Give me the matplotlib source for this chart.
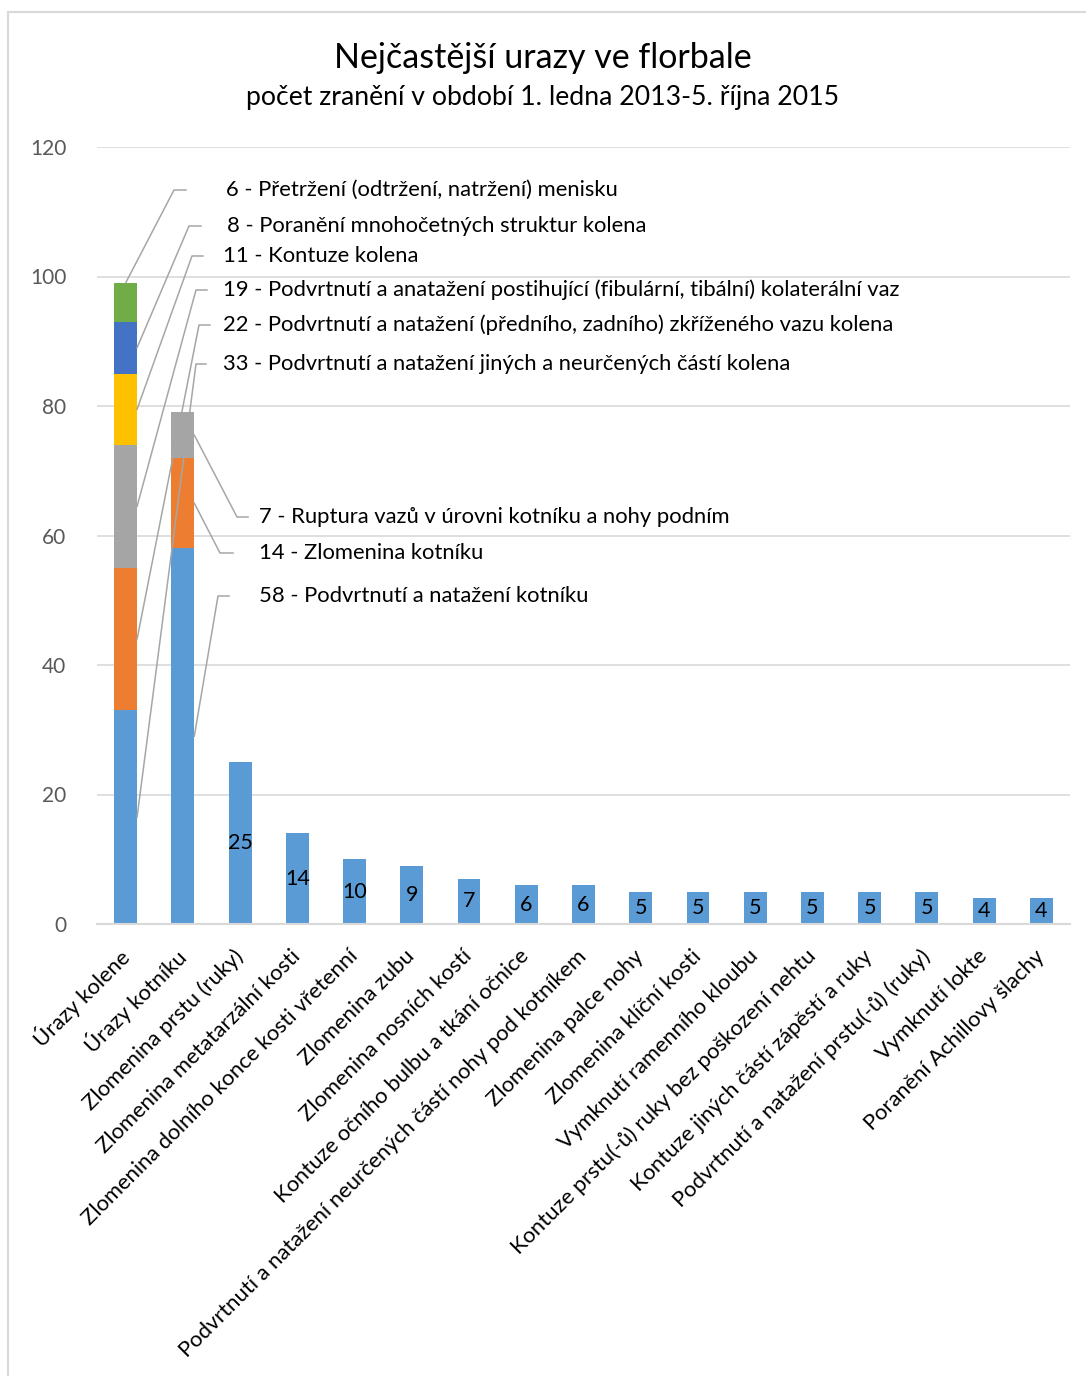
"""
Nejčastější úrazy ve florbale - skládaný sloupcový graf s popisky.
"""

import numpy as np
import matplotlib.pyplot as plt
from matplotlib.patches import Rectangle

plt.rcParams["font.family"] = ["Lato", "DejaVu Sans"]

# ----------------------------------------------------------
# Data
# ----------------------------------------------------------

kategorie = [
    "Úrazy kolene",
    "Úrazy kotníku",
    "Zlomenina prstu (ruky)",
    "Zlomenina metatarzální kosti",
    "Zlomenina dolního konce kosti vřetenní",
    "Zlomenina zubu",
    "Zlomenina nosních kostí",
    "Kontuze očního bulbu a tkání očnice",
    "Podvrtnutí a natažení neurčených částí nohy pod kotníkem",
    "Zlomenina palce nohy",
    "Zlomenina klíční kosti",
    "Vymknutí ramenního kloubu",
    "Kontuze prstu(-ů) ruky bez poškození nehtu",
    "Kontuze jiných částí zápěstí a ruky",
    "Podvrtnutí a natažení prstu(-ů) (ruky)",
    "Vymknutí lokte",
    "Poranění Achillovy šlachy",
]

ostatni_hodnoty = [25, 14, 10, 9, 7, 6, 6, 5, 5, 5, 5, 5, 5, 4, 4]

koleno_hodnoty = [33, 22, 19, 11, 8, 6]
koleno_popisky = [
    "Podvrtnutí a natažení jiných a neurčených částí kolena",
    "Podvrtnutí a natažení (předního, zadního) zkříženého vazu kolena",
    "Podvrtnutí a anatažení postihující (fibulární, tibální) kolaterální vaz",
    "Kontuze kolena",
    "Poranění mnohočetných struktur kolena",
    "Přetržení (odtržení, natržení) menisku",
]
koleno_barvy = ["#5B9BD5", "#ED7D31", "#A5A5A5", "#FFC000", "#4472C4", "#70AD47"]

kotnik_hodnoty = [58, 14, 7]
kotnik_popisky = [
    "Podvrtnutí a natažení kotníku",
    "Zlomenina kotníku",
    "Ruptura vazů v úrovni kotníku a nohy podním",
]
kotnik_barvy = ["#5B9BD5", "#ED7D31", "#A5A5A5"]

# ----------------------------------------------------------
# Rozložení (pixely obrázku)
# ----------------------------------------------------------

W, H = 1086, 1376
AX_L, AX_R, AX_B, AX_T = 97, 1070, 924, 147
N = len(kategorie)
SIRKA = 0.4
PISMO = 15.8

# (text_x, text_y, loket_x, konec_x) pro popisky kolene (od spodu)
koleno_layout = [
    (223, 364, 196, 206),
    (223, 325, 199, 210),
    (223, 290, 196, 207),
    (223, 256, 192, 203),
    (227, 226, 189, 201),
    (226, 190, 174, 186),
]
kotnik_layout = [
    (259, 596, 218, 229),
    (259, 553, 220, 233),
    (259, 517, 237, 248),
]


def px2data(px, py):
    x = (px - AX_L) / (AX_R - AX_L) * N - 0.5
    y = (AX_B - py) / (AX_B - AX_T) * 120
    return x, y


fig = plt.figure(figsize=(W / 100, H / 100), dpi=100)
ax = fig.add_axes([
    AX_L / W,
    1 - AX_B / H,
    (AX_R - AX_L) / W,
    (AX_B - AX_T) / H,
])

# rámeček grafu
fig.patches.append(Rectangle(
    (8 / W, -0.1), 1.2, 1 - 12 / H + 0.1,
    transform=fig.transFigure, fill=False,
    edgecolor="#D9D9D9", linewidth=1.5, zorder=0,
))

x = np.arange(N)

# ----------------------------------------------------------
# Sloupce
# ----------------------------------------------------------

spodek = 0
koleno_stred = []
for h, c in zip(koleno_hodnoty, koleno_barvy):
    ax.bar(0, h, bottom=spodek, width=SIRKA, color=c, zorder=2)
    koleno_stred.append(spodek + h / 2)
    spodek += h
koleno_celkem = spodek

spodek = 0
kotnik_stred = []
for h, c in zip(kotnik_hodnoty, kotnik_barvy):
    ax.bar(1, h, bottom=spodek, width=SIRKA, color=c, zorder=2)
    kotnik_stred.append(spodek + h / 2)
    spodek += h

ostatni = ax.bar(x[2:], ostatni_hodnoty, width=SIRKA, color="#5B9BD5", zorder=2)
for rect, h in zip(ostatni, ostatni_hodnoty):
    ax.text(
        rect.get_x() + rect.get_width() / 2, h / 2, str(h),
        ha="center", va="center", fontsize=15.5, color="#000000", zorder=4,
    )

# ----------------------------------------------------------
# Popisky s vodícími čarami
# ----------------------------------------------------------

LINE = dict(color="#A6A6A6", linewidth=1.1, zorder=3, clip_on=False)

for i, (h, txt, lay) in enumerate(zip(koleno_hodnoty, koleno_popisky, koleno_layout)):
    tx, ty, ex, kx = lay
    if i == len(koleno_hodnoty) - 1:
        start = (0, koleno_celkem)
    else:
        start = (SIRKA / 2, koleno_stred[i])
    e = px2data(ex, ty)
    k = px2data(kx, ty)
    ax.plot([start[0], e[0], k[0]], [start[1], e[1], k[1]], **LINE)
    t = px2data(tx, ty)
    ax.text(t[0], t[1], f"{h} - {txt}", ha="left", va="center",
            fontsize=PISMO, color="#000000", zorder=4)

for i, (h, txt, lay) in enumerate(zip(kotnik_hodnoty, kotnik_popisky, kotnik_layout)):
    tx, ty, ex, kx = lay
    start = (1 + SIRKA / 2, kotnik_stred[i])
    e = px2data(ex, ty)
    k = px2data(kx, ty)
    ax.plot([start[0], e[0], k[0]], [start[1], e[1], k[1]], **LINE)
    t = px2data(tx, ty)
    ax.text(t[0], t[1], f"{h} - {txt}", ha="left", va="center",
            fontsize=PISMO, color="#000000", zorder=4)

# ----------------------------------------------------------
# Osy
# ----------------------------------------------------------

ax.set_xlim(-0.5, N - 0.5)
ax.set_ylim(0, 120)
ax.set_yticks(np.arange(0, 121, 20))
ax.yaxis.grid(True, color="#D9D9D9", linewidth=1.2, zorder=0)
ax.set_axisbelow(True)
for s in ["top", "right", "left"]:
    ax.spines[s].set_visible(False)
ax.spines["bottom"].set_color("#D9D9D9")
ax.spines["bottom"].set_linewidth(1.5)
ax.tick_params(axis="both", length=0, labelsize=15, colors="#595959")
ax.tick_params(axis="y", pad=22)

ax.set_xticks(x)
ax.set_xticklabels(kategorie, rotation=45, ha="right", va="center",
                   rotation_mode="anchor", fontsize=PISMO, color="#000000")
ax.tick_params(axis="x", pad=21)

fig.text(0.5, 1 - 58 / H, "Nejčastější urazy ve florbale",
         ha="center", va="center", fontsize=24.5, color="#000000")
fig.text(0.5, 1 - 98 / H, "počet zranění v období 1. ledna 2013-5. října 2015",
         ha="center", va="center", fontsize=19.2, color="#000000")

fig.savefig("out.png", dpi=100)
